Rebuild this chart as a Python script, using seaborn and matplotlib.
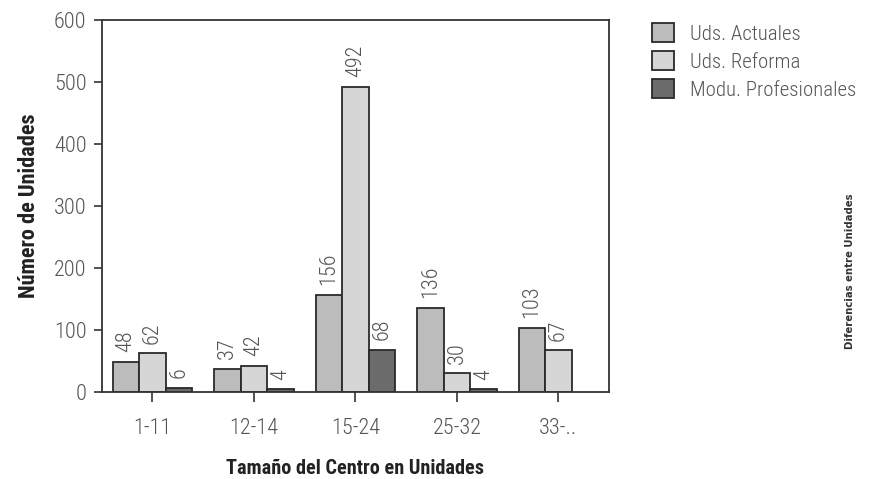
import pandas as pd
import matplotlib.pyplot as plt
import seaborn as sns
import numpy as np

grupos = ['1-11', '12-14', '15-24', '25-32', '33-..']
actuales = [48, 37, 156, 136, 103]
reforma = [62, 42, 492, 30, 67]
profesionales = [6, 4, 68, 4, np.nan]
series = ['Uds. Actuales', 'Uds. Reforma', 'Modu. Profesionales']
colores = ['#bcbcbc', '#d6d6d6', '#6b6b6b']

df = pd.DataFrame({'grupo': grupos * 3,
                   'serie': np.repeat(series, len(grupos)),
                   'valor': actuales + reforma + profesionales})

sns.set_style('white')
plt.rcParams['font.family'] = ['Roboto Condensed', 'DejaVu Sans']

fig = plt.figure(figsize=(8.69, 4.79), dpi=100)
ax = fig.add_axes([0.117, 0.182, 0.584, 0.776])
sns.barplot(data=df, x='grupo', y='valor', hue='serie', palette=colores,
            width=0.78, gap=0, edgecolor='#2a2a2a', linewidth=1.3, ax=ax)

# etiquetas de valor giradas
for cont in ax.containers:
    labs = ['' if np.isnan(v) else '%d' % v for v in cont.datavalues]
    ax.bar_label(cont, labels=labs, rotation=90, padding=7, color='#555555',
                 fontsize=16, fontweight='light')

ax.set_xlim(-0.5, 4.5)
ax.set_ylim(0, 600)
ax.set_yticks(np.arange(0, 601, 100))
ax.tick_params(axis='both', direction='out', width=1.2, color='#333333',
               labelsize=16, labelcolor='#555555', bottom=True, left=True)
ax.tick_params(axis='y', length=6, pad=5)
ax.tick_params(axis='x', length=7, pad=12)
for lab in ax.get_xticklabels() + ax.get_yticklabels():
    lab.set_fontweight('light')
for s in ax.spines.values():
    s.set_color('#333333')
    s.set_linewidth(1.3)
ax.set_xlabel('Tamaño del Centro en Unidades', fontsize=14.6, fontweight='bold',
              color='#222222', labelpad=14)
ax.set_ylabel('Número de Unidades', fontsize=16, fontweight='bold',
              color='#222222', labelpad=10)

leg = ax.legend(loc='upper left', bbox_to_anchor=(1.055, 1.032), frameon=False,
                fontsize=15, handlelength=1.05, handleheight=1.05, labelspacing=0.35,
                handletextpad=0.8, borderaxespad=0.3)
for t in leg.get_texts():
    t.set_color('#555555')
    t.set_fontweight('light')

fig.text(0.978, 0.434, 'Diferencias entre Unidades', rotation=90, fontsize=7.3,
         fontweight='bold', color='#333333', ha='center', va='center',
         family='DejaVu Sans')

fig.savefig('out.png', dpi=100)
